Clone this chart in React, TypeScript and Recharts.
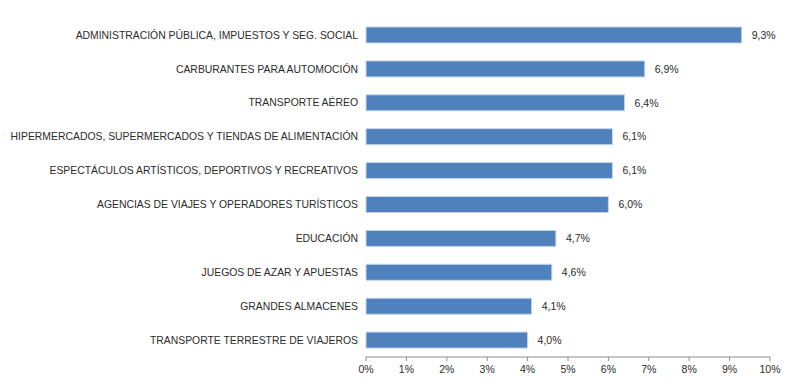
import { BarChart, Bar, XAxis, YAxis, LabelList } from 'recharts';

const categories = [
  'ADMINISTRACIÓN PÚBLICA, IMPUESTOS Y SEG. SOCIAL',
  'CARBURANTES PARA AUTOMOCIÓN',
  'TRANSPORTE AÉREO',
  'HIPERMERCADOS, SUPERMERCADOS Y TIENDAS DE ALIMENTACIÓN',
  'ESPECTÁCULOS ARTÍSTICOS, DEPORTIVOS Y RECREATIVOS',
  'AGENCIAS DE VIAJES Y OPERADORES TURÍSTICOS',
  'EDUCACIÓN',
  'JUEGOS DE AZAR Y APUESTAS',
  'GRANDES ALMACENES',
  'TRANSPORTE TERRESTRE DE VIAJEROS',
];
const values = [9.3, 6.9, 6.4, 6.1, 6.1, 6.0, 4.7, 4.6, 4.1, 4.0];
const xTicks = [0, 1, 2, 3, 4, 5, 6, 7, 8, 9, 10];
const rowEdges = [0, 1, 2, 3, 4, 5, 6, 7, 8, 9, 10];

const data = categories.map((name, i) => ({ name, value: values[i] }));

const axisColor = '#8c8c8c';
const textColor = '#2b2b2b';
const family = 'Liberation Sans, Arial, sans-serif';
const font = { fontSize: 10.5, fill: textColor, fontFamily: family };

const pct = (v: number) => `${v.toFixed(1).replace('.', ',')}%`;

function CatTick(props: any) {
  const { x, y, payload } = props;
  return (
    <text x={x} y={y} dy="0.355em" textAnchor="end" fontSize={10.4} fill={textColor} fontFamily={family}>
      {payload.value}
    </text>
  );
}

export default function App() {
  return (
    <div style={{ position: 'fixed', left: 0, top: 0, width: 800, height: 387, background: '#fff' }}>
      <BarChart
        width={800}
        height={387}
        data={data}
        layout="vertical"
        margin={{ top: 18, right: 30, bottom: 0, left: 0 }}
        barCategoryGap={9}
      >
        <XAxis
          type="number"
          domain={[0, 10]}
          ticks={xTicks}
          tickFormatter={(v: number) => `${v}%`}
          tick={font}
          stroke={axisColor}
          tickSize={4}
          tickMargin={5}
          interval={0}
          height={30}
        />
        <YAxis
          yAxisId="edges"
          type="number"
          domain={[0, 10]}
          ticks={rowEdges}
          tick={() => <g />}
          tickSize={4}
          width={0}
          stroke={axisColor}
          interval={0}
        />
        <YAxis
          yAxisId="cat"
          type="category"
          dataKey="name"
          width={366}
          tick={<CatTick />}
          axisLine={false}
          tickLine={false}
          tickSize={0}
          tickMargin={8}
          interval={0}
        />
        <Bar yAxisId="cat" dataKey="value" fill="#4f81bd" stroke="#c6d6ea" strokeWidth={1} isAnimationActive={false}>
          <LabelList dataKey="value" position="right" offset={10} formatter={(v: number) => pct(v)} style={font} />
        </Bar>
      </BarChart>
    </div>
  );
}
